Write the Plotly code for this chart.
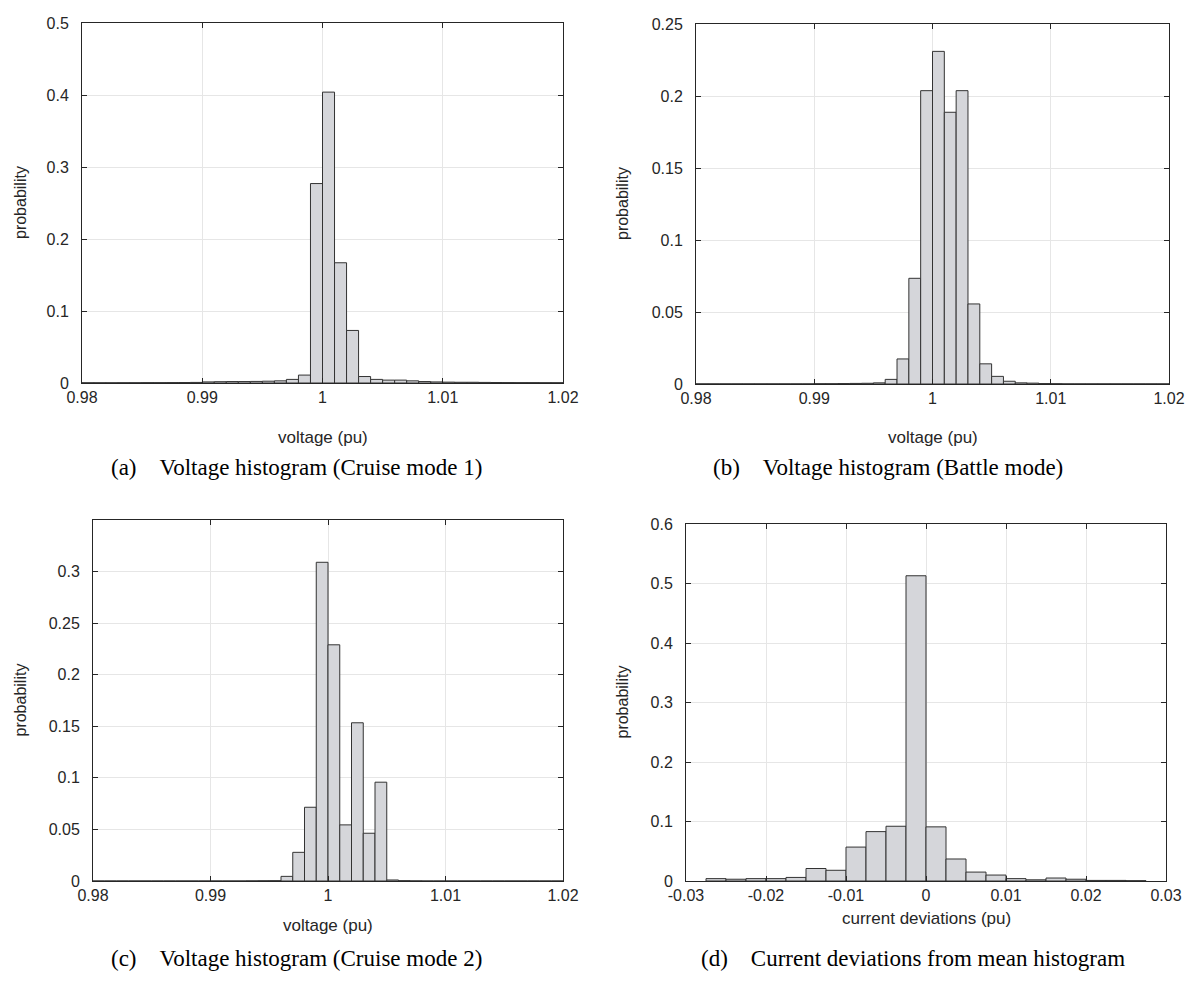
import plotly.graph_objects as go

# ---------------- data ----------------
v_bin_start = 0.980
v_bin_width = 0.001
a_prob = [0.0003, 0.0003, 0.0003, 0.0004, 0.0004, 0.0005, 0.0005, 0.0006, 0.0007, 0.0008,
          0.0015, 0.0018, 0.0020, 0.0020, 0.0022, 0.0025, 0.0030, 0.0050, 0.0110, 0.2770,
          0.4040, 0.1670, 0.0730, 0.0090, 0.0050, 0.0040, 0.0040, 0.0030, 0.0020, 0.0015,
          0.0012, 0.0010, 0.0010, 0.0008, 0.0007, 0.0006, 0.0005, 0.0005, 0.0004, 0.0004]
b_prob = [0.0001, 0.0001, 0.0001, 0.0001, 0.0001, 0.0001, 0.0001, 0.0001, 0.0001, 0.0001,
          0.0002, 0.0002, 0.0003, 0.0004, 0.0005, 0.0008, 0.0032, 0.0174, 0.0734, 0.2037,
          0.2310, 0.1887, 0.2037, 0.0556, 0.0140, 0.0053, 0.0019, 0.0008, 0.0006, 0.0003,
          0.0002, 0.0001, 0.0001, 0.0001, 0.0001, 0.0001, 0.0001, 0.0001, 0.0001, 0.0001]
c_prob = [0.0, 0.0, 0.0, 0.0, 0.0, 0.0, 0.0, 0.0, 0.0, 0.0,
          0.0, 0.0, 0.0, 0.0001, 0.0002, 0.0003, 0.0045, 0.0278, 0.0715, 0.3090,
          0.2290, 0.0544, 0.1534, 0.0463, 0.0958, 0.0010, 0.0003, 0.0001, 0.0, 0.0,
          0.0, 0.0, 0.0, 0.0, 0.0, 0.0, 0.0, 0.0, 0.0, 0.0]
d_bin_start = -0.0275
d_bin_width = 0.0025
d_prob = [0.004, 0.003, 0.004, 0.004, 0.006, 0.021, 0.018, 0.057, 0.083, 0.092, 0.513,
          0.091, 0.037, 0.015, 0.010, 0.004, 0.002, 0.005, 0.003, 0.001, 0.001, 0.0005]

v_ticks = [0.98, 0.99, 1.00, 1.01, 1.02]
v_ticklabels = ["0.98", "0.99", "1", "1.01", "1.02"]
d_ticks = [-0.03, -0.02, -0.01, 0.0, 0.01, 0.02, 0.03]
d_ticklabels = ["-0.03", "-0.02", "-0.01", "0", "0.01", "0.02", "0.03"]
a_yticks = [0, 0.1, 0.2, 0.3, 0.4, 0.5]
a_yticklabels = ["0", "0.1", "0.2", "0.3", "0.4", "0.5"]
b_yticks = [0, 0.05, 0.1, 0.15, 0.2, 0.25]
b_yticklabels = ["0", "0.05", "0.1", "0.15", "0.2", "0.25"]
c_yticks = [0, 0.05, 0.1, 0.15, 0.2, 0.25, 0.3]
c_yticklabels = ["0", "0.05", "0.1", "0.15", "0.2", "0.25", "0.3"]
d_yticks = [0, 0.1, 0.2, 0.3, 0.4, 0.5, 0.6]
d_yticklabels = ["0", "0.1", "0.2", "0.3", "0.4", "0.5", "0.6"]

captions = ["(a)\u00a0\u00a0\u00a0\u00a0Voltage histogram (Cruise mode 1)",
            "(b)\u00a0\u00a0\u00a0\u00a0Voltage histogram (Battle mode)",
            "(c)\u00a0\u00a0\u00a0\u00a0Voltage histogram (Cruise mode 2)",
            "(d)\u00a0\u00a0\u00a0\u00a0Current deviations from mean histogram"]
xtitles = ["voltage (pu)", "voltage (pu)", "voltage (pu)", "current deviations (pu)"]
ytitle = "probability"

# ---------------- layout geometry (screen pixels) ----------------
W, H = 1187, 985
# (left, right, top, bottom) plot-area pixel boxes
boxes = [(82, 563, 23, 383), (696, 1169, 24, 384), (93, 563, 520, 881), (686, 1166, 524, 881)]
xtitle_y = [437, 437, 925, 918]
ylabel_x = [20, 622, 20, 622]
caption_pos = [(297, 468), (888, 468), (297, 958), (913, 958)]

def px(x):
    return x / W

def py(y):
    return 1 - y / H

FILL = "#d5d6da"
EDGE = "#333333"
AXC = "#262626"
GRID = "#e6e6e6"
SANS = "Liberation Sans, Arial, sans-serif"
TICKFONT = dict(family=SANS, size=16, color=AXC)

fig = go.Figure()

series = [
    (a_prob, v_bin_start, v_bin_width),
    (b_prob, v_bin_start, v_bin_width),
    (c_prob, v_bin_start, v_bin_width),
    (d_prob, d_bin_start, d_bin_width),
]
for i, (probs, start, width) in enumerate(series):
    centers = [start + width * (k + 0.5) for k in range(len(probs))]
    sfx = "" if i == 0 else str(i + 1)
    fig.add_trace(go.Bar(
        x=centers, y=probs, width=[width] * len(probs),
        marker=dict(color=FILL, line=dict(color=EDGE, width=1)),
        xaxis="x" + sfx, yaxis="y" + sfx, showlegend=False,
    ))

xranges = [[0.98, 1.02], [0.98, 1.02], [0.98, 1.02], [-0.03, 0.03]]
yranges = [[0, 0.5], [0, 0.25], [0, 0.35], [0, 0.6]]
xtv = [(v_ticks, v_ticklabels)] * 3 + [(d_ticks, d_ticklabels)]
ytv = [(a_yticks, a_yticklabels), (b_yticks, b_yticklabels),
       (c_yticks, c_yticklabels), (d_yticks, d_yticklabels)]

axis_common = dict(showline=True, linecolor=AXC, linewidth=1, mirror="ticks",
                   ticks="inside", ticklen=5, tickcolor=AXC, tickwidth=1,
                   showgrid=True, gridcolor=GRID, gridwidth=1, zeroline=False,
                   tickfont=TICKFONT, automargin=False)

layout = dict(width=W, height=H, margin=dict(l=0, r=0, t=0, b=0, autoexpand=False),
              paper_bgcolor="white", plot_bgcolor="white", bargap=0,
              showlegend=False)
annotations = []
for i, (l, r, t, b) in enumerate(boxes):
    sfx = "" if i == 0 else str(i + 1)
    layout["xaxis" + sfx] = dict(domain=[px(l), px(r)], range=xranges[i], anchor="y" + sfx,
                                 tickvals=xtv[i][0], ticktext=xtv[i][1],
                                 ticklabelstandoff=0, **axis_common)
    layout["yaxis" + sfx] = dict(domain=[py(b), py(t)], range=yranges[i], anchor="x" + sfx,
                                 tickvals=ytv[i][0], ticktext=ytv[i][1],
                                 ticklabelstandoff=9, **axis_common)
    annotations.append(dict(text=xtitles[i], x=px((l + r) / 2), y=py(xtitle_y[i]),
                            xref="paper", yref="paper", showarrow=False,
                            xanchor="center", yanchor="middle",
                            font=dict(family=SANS, size=17, color=AXC)))
    annotations.append(dict(text=ytitle, x=px(ylabel_x[i]), y=py((t + b) / 2),
                            xref="paper", yref="paper", showarrow=False, textangle=-90,
                            xanchor="center", yanchor="middle",
                            font=dict(family=SANS, size=16, color=AXC)))
    cx, cy = caption_pos[i]
    annotations.append(dict(text=captions[i], x=px(cx), y=py(cy),
                            xref="paper", yref="paper", showarrow=False,
                            xanchor="center", yanchor="middle",
                            font=dict(family="Liberation Serif, Times New Roman, serif", size=23, color="black")))
layout["annotations"] = annotations
fig.update_layout(**layout)

fig.write_html("out.html",
               config={"displayModeBar": False, "staticPlot": True},
               post_script="document.body.style.margin='0';document.body.style.overflow='hidden';")
